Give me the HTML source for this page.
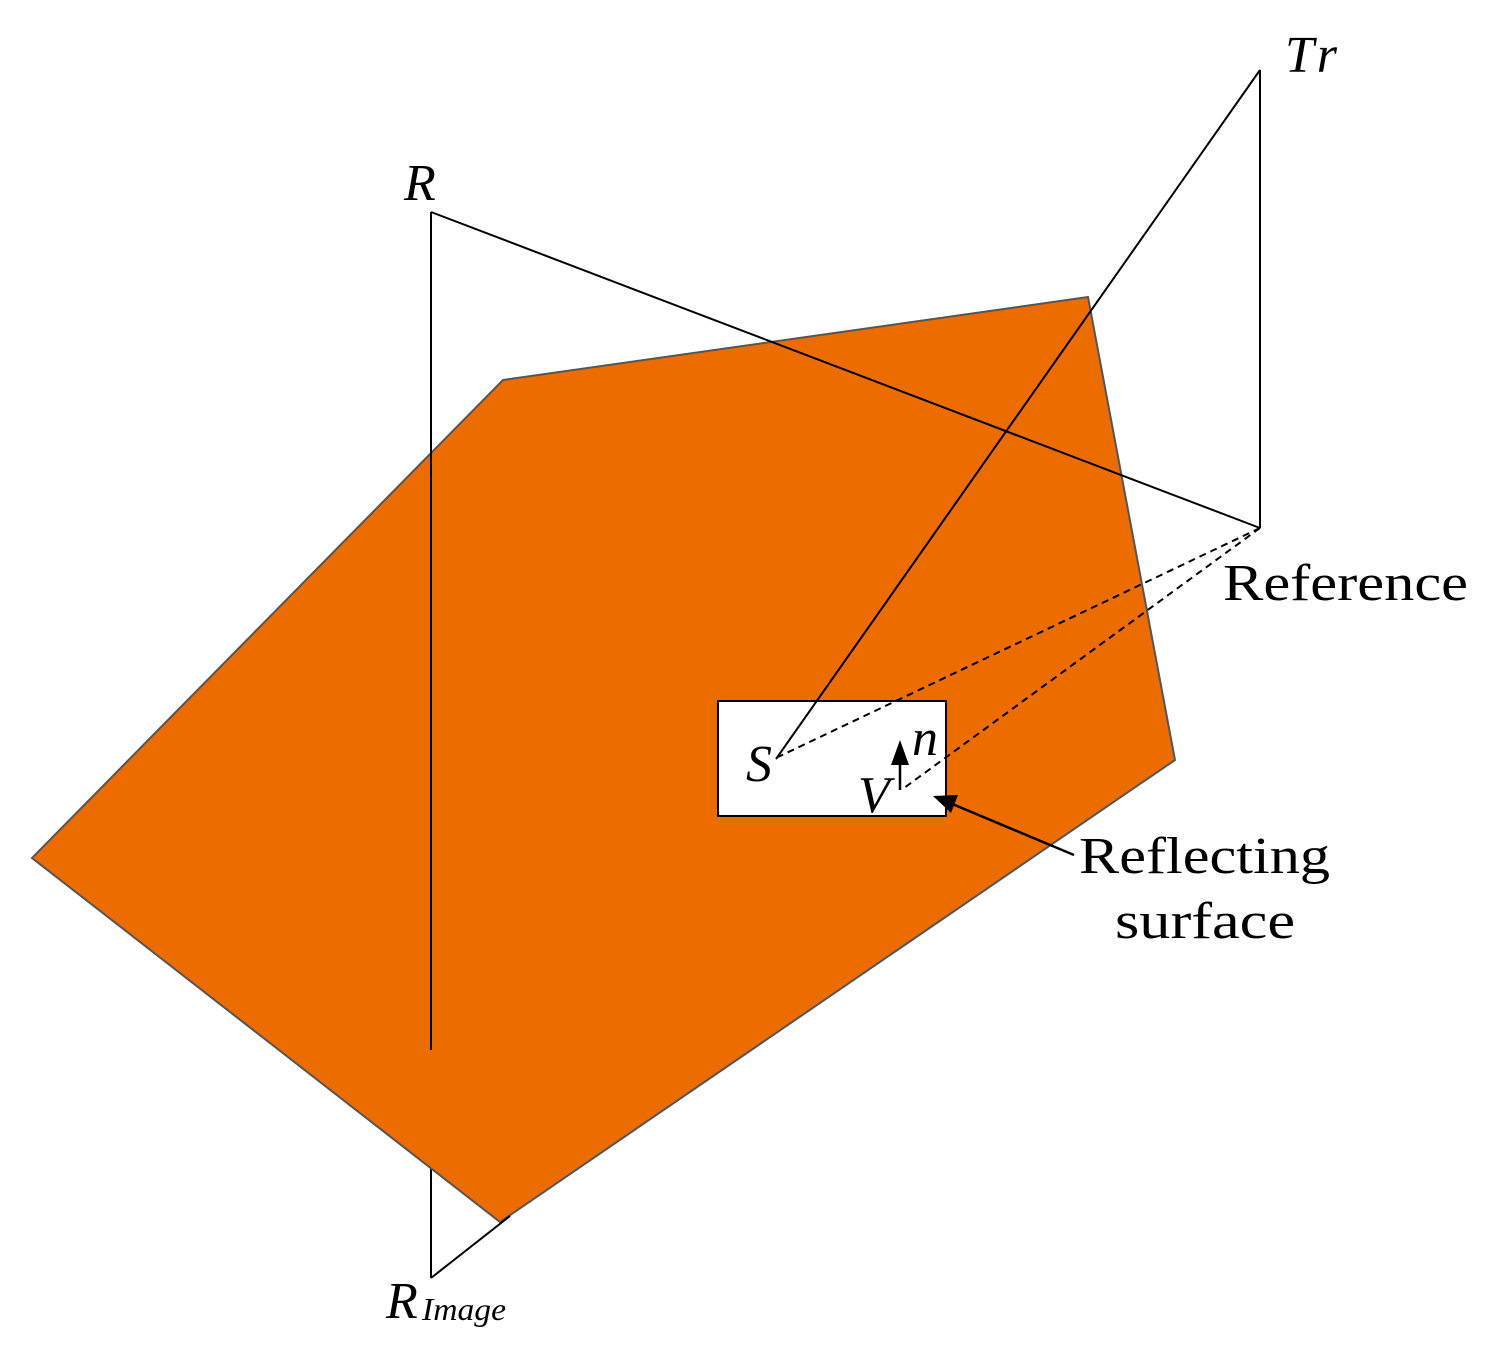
<!DOCTYPE html>
<html><head><style>body{margin:0;background:#fff}</style></head><body>
<svg width="1493" height="1349" viewBox="0 0 1493 1349" xmlns="http://www.w3.org/2000/svg" font-family="Liberation Serif, serif">
<line x1="431" y1="1165" x2="431" y2="1278" stroke="#000" stroke-width="2"/>
<polygon points="503,380 1088,297 1175,760 500,1222 32,858" fill="#EC6C00" stroke="#555" stroke-width="2"/>
<line x1="431" y1="212" x2="431" y2="1050" stroke="#000" stroke-width="2"/>
<line x1="431" y1="212" x2="1260" y2="528" stroke="#000" stroke-width="2"/>
<line x1="1260" y1="70" x2="1260" y2="528" stroke="#000" stroke-width="2"/>
<line x1="431" y1="1278" x2="510" y2="1216" stroke="#000" stroke-width="2"/>
<rect x="718" y="701" width="228" height="115" fill="#fff" stroke="#000" stroke-width="2"/>
<line x1="1260" y1="70" x2="776" y2="759" stroke="#000" stroke-width="2"/>
<line x1="1260" y1="528" x2="778" y2="757" stroke="#000" stroke-width="2" stroke-dasharray="7,5"/>
<line x1="1260" y1="528" x2="904" y2="788" stroke="#000" stroke-width="2" stroke-dasharray="7,5"/>
<line x1="900" y1="790" x2="900" y2="760" stroke="#000" stroke-width="2.5"/>
<polygon points="900,740 891,765 909,765" fill="#000"/>
<line x1="1074" y1="855" x2="950" y2="803" stroke="#000" stroke-width="2.5"/>
<polygon points="933,796 958,795 951,813" fill="#000"/>
<g font-size="52" fill="#000">
<text x="404" y="200" font-style="italic">R</text>
<text x="1285" y="72" font-style="italic" textLength="52">Tr</text>
<text x="1223" y="600" textLength="245" lengthAdjust="spacingAndGlyphs">Reference</text>
<text x="746" y="781" font-style="italic">S</text>
<text x="858" y="812" font-style="italic">V</text>
<text x="912" y="755" font-style="italic">n</text>
<text x="1079" y="873" textLength="251" lengthAdjust="spacingAndGlyphs">Reflecting</text>
<text x="1115" y="938" textLength="180" lengthAdjust="spacingAndGlyphs">surface</text>
<text x="386" y="1318" font-style="italic">R</text>
<text x="422" y="1320" font-style="italic" font-size="32" textLength="84" lengthAdjust="spacingAndGlyphs">Image</text>
</g>
</svg>
</body></html>
